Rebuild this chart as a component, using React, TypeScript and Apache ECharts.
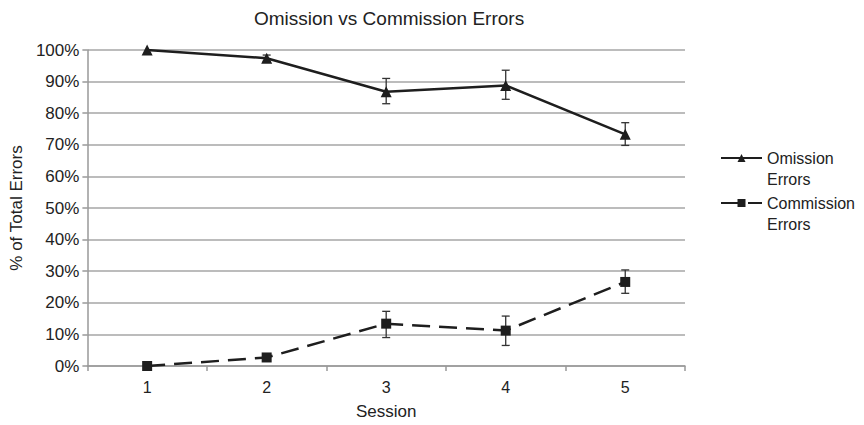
import React, { useEffect, useRef } from "react";
import * as echarts from "echarts";

const sessions = ["1", "2", "3", "4", "5"];
const omission = [100, 97.4, 86.8, 88.8, 73.3];
const omissionLow = [100, 96.4, 83.0, 84.4, 69.8];
const omissionHigh = [100, 98.4, 91.0, 93.6, 77.0];
const commission = [0, 2.7, 13.4, 11.2, 26.6];
const commissionLow = [0, 2.2, 9.0, 6.5, 23.0];
const commissionHigh = [0, 3.2, 17.3, 15.8, 30.4];
const yTicks = [0, 10, 20, 30, 40, 50, 60, 70, 80, 90, 100];

const FONT = "Liberation Sans, Arial, sans-serif";
const TXT = "#222";

function errorBarItem(params: any, api: any) {
  const i = api.value(0);
  const lo = api.coord([i, api.value(1)]);
  const hi = api.coord([i, api.value(2)]);
  if (Math.abs(hi[1] - lo[1]) < 0.5) return { type: "group", children: [] };
  const w = 4;
  const style = { stroke: "#333", lineWidth: 1.3 };
  return {
    type: "group",
    children: [
      { type: "line", shape: { x1: lo[0], y1: lo[1], x2: hi[0], y2: hi[1] }, style },
      { type: "line", shape: { x1: lo[0] - w, y1: lo[1], x2: lo[0] + w, y2: lo[1] }, style },
      { type: "line", shape: { x1: hi[0] - w, y1: hi[1], x2: hi[0] + w, y2: hi[1] }, style },
    ],
  };
}

export default function App() {
  const ref = useRef<HTMLDivElement>(null);
  useEffect(() => {
    if (!ref.current) return;
    const chart = echarts.init(ref.current, undefined, { renderer: "svg" });
    const omErr = sessions.map((_, i) => [i, omissionLow[i], omissionHigh[i]]);
    const coErr = sessions.map((_, i) => [i, commissionLow[i], commissionHigh[i]]);
    chart.setOption({
      animation: false,
      backgroundColor: "#ffffff",
      textStyle: { fontFamily: FONT },
      title: {
        text: "Omission vs Commission Errors",
        left: 384,
        textAlign: "center",
        top: 4,
        textStyle: { fontFamily: FONT, fontSize: 19, fontWeight: "normal", color: TXT },
      },
      grid: { left: 83, right: 179, top: 50, bottom: 57 },
      legend: {
        orient: "vertical",
        left: 715,
        top: 145,
        itemWidth: 41,
        itemHeight: 10,
        itemGap: 29,
        data: ["Omission", "Commission"],
        textStyle: { fontFamily: FONT, fontSize: 16, color: TXT },
      },
      graphic: [
        { type: "text", x: 767, y: 179, style: { text: "Errors", font: `16px ${FONT}`, fill: TXT, verticalAlign: "middle" } },
        { type: "text", x: 767, y: 224, style: { text: "Errors", font: `16px ${FONT}`, fill: TXT, verticalAlign: "middle" } },
      ],
      xAxis: {
        type: "category",
        data: sessions,
        boundaryGap: true,
        name: "Session",
        nameLocation: "middle",
        nameGap: 37,
        nameTextStyle: { fontFamily: FONT, fontSize: 17, color: TXT },
        axisLine: { lineStyle: { color: "#999", width: 1.5 } },
        axisTick: { show: true, length: 5, lineStyle: { color: "#999", width: 1.5 } },
        axisLabel: { fontFamily: FONT, fontSize: 16, color: TXT, margin: 13 },
      },
      yAxis: {
        type: "value",
        min: 0,
        max: 100,
        interval: 10,
        name: "% of Total Errors",
        nameLocation: "middle",
        nameGap: 59,
        nameTextStyle: { fontFamily: FONT, fontSize: 17, color: TXT },
        axisLine: { show: true, lineStyle: { color: "#999", width: 1.5 } },
        axisTick: { show: true, length: 5, lineStyle: { color: "#999", width: 1.5 } },
        axisLabel: {
          fontFamily: FONT,
          fontSize: 17,
          color: TXT,
          margin: 8,
          formatter: (v: number) => (yTicks.includes(v) ? `${v}%` : ""),
        },
        splitLine: { lineStyle: { color: "#a6a6a6", width: 1.5 } },
      },
      series: [
        {
          name: "Omission",
          type: "line",
          data: omission,
          symbol: "triangle",
          symbolSize: 11,
          itemStyle: { color: "#1e1e1e" },
          lineStyle: { color: "#1e1e1e", width: 2.5 },
          z: 3,
        },
        {
          name: "Commission",
          type: "line",
          data: commission,
          symbol: "rect",
          symbolSize: 10,
          itemStyle: { color: "#1e1e1e" },
          lineStyle: { color: "#1e1e1e", width: 2.5, type: [18, 9] },
          z: 3,
        },
        { type: "custom", renderItem: errorBarItem, data: omErr, z: 2, silent: true },
        { type: "custom", renderItem: errorBarItem, data: coErr, z: 2, silent: true },
      ],
    });
    return () => chart.dispose();
  }, []);
  return (
    <div
      ref={ref}
      style={{ position: "fixed", left: 0, top: 0, width: 864, height: 425 }}
    />
  );
}
